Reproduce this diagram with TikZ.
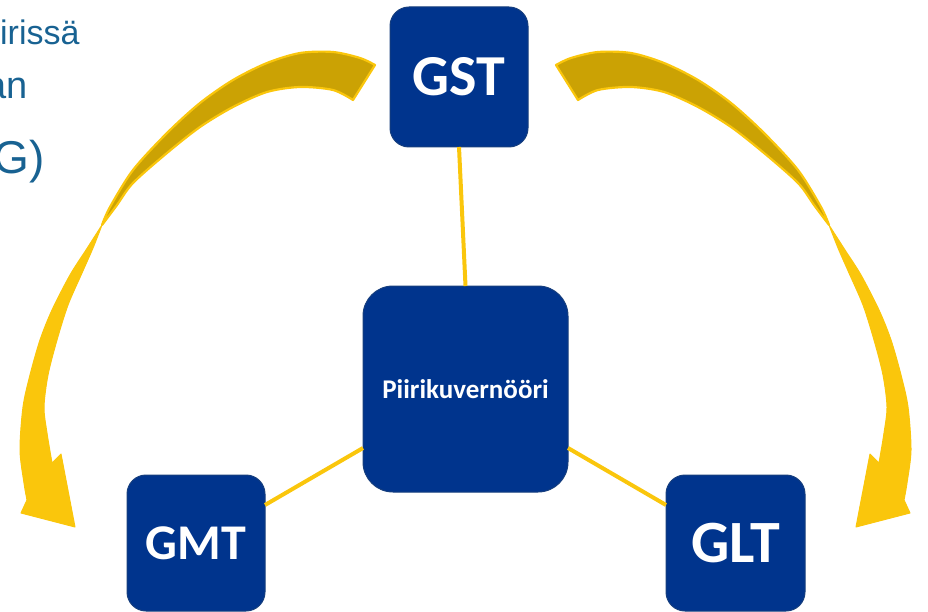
\documentclass[tikz,border=0pt]{standalone}
\usepackage{fontspec}
\setmainfont{Liberation Sans}
\newfontfamily\cali{Carlito}
\definecolor{goldy}{RGB}{250,198,12}
\definecolor{golddark}{RGB}{203,162,4}
\definecolor{rblue}{RGB}{0,52,141}
\definecolor{rborder}{RGB}{22,62,125}
\definecolor{txtblue}{RGB}{24,98,146}
\newcommand\myturnarrow{%
  \filldraw[fill=golddark, draw=goldy, line width=2.2pt, line join=round]
    plot[smooth] coordinates {(375,65) (360,58) (333,52) (300,53) (267,63) (233,80) (200,103) (167,133) (133,170) (110,207) (102,225)}
    -- plot[smooth] coordinates {(102,225) (117,205) (133,183) (167,153) (200,127) (233,107) (267,92) (300,87) (333,90) (353,100)}
    -- cycle;
  \filldraw[fill=goldy, draw=goldy, line width=1pt, line join=round]
    plot[smooth] coordinates {(102,225) (86,250) (70,275) (52,310) (40,340) (30,375) (23,407) (20,450) (24,483) (27,500)}
    -- (21,513) -- (75,527) -- (61,454) --
    plot[smooth] coordinates {(52,463) (47,433) (44,407) (48,375) (57,340) (68,305) (82,273) (93,248) (102,225)}
    -- cycle;
}
\begin{document}
\begin{tikzpicture}[x=1pt,y=-1pt,
  boxnode/.style={draw=rborder, line width=1pt, fill=rblue, text=white, inner sep=0pt, outer sep=0pt, font=\cali\bfseries},
  linkline/.style={draw=goldy, line width=4pt},
  sidetext/.style={text=txtblue, inner sep=0pt}]
\useasboundingbox (0,0) rectangle (928,612);
\clip (0,0) rectangle (928,612);
% text fragments at the left
\node[sidetext, anchor=base west, font=\fontsize{34}{36}\selectfont] (t1) at (0,45) {irissä};
\node[sidetext, anchor=base east, font=\fontsize{38}{40}\selectfont] (t2) at (28,99) {an};
\node[sidetext, anchor=base east, font=\fontsize{46}{48}\selectfont] (t3) at (45,174) {G)};
% curved arrows
\myturnarrow
\begin{scope}[shift={(931,0)}, xscale=-1]
\myturnarrow
\end{scope}
% boxes
\node[boxnode, minimum width=138pt, minimum height=140pt, rounded corners=19pt, font=\cali\bfseries\fontsize{58}{60}\selectfont] (gst) at (459,77) {GST};
\node[boxnode, minimum width=205pt, minimum height=206pt, rounded corners=30pt, font=\cali\bfseries\fontsize{27}{29}\selectfont] (pk) at (465.5,389) {Piirikuvernööri};
\node[boxnode, minimum width=138pt, minimum height=136pt, rounded corners=19pt, font=\cali\bfseries\fontsize{50}{52}\selectfont] (gmt) at (196,543) {GMT};
\node[boxnode, minimum width=139pt, minimum height=136pt, rounded corners=19pt, font=\cali\bfseries\fontsize{60}{62}\selectfont] (glt) at (735.5,543) {GLT};
% connectors
\draw[linkline] (gst.south) -- (pk.north);
\draw[linkline] ([yshift=-59pt]pk.west) -- ([yshift=38pt]gmt.east);
\draw[linkline] ([yshift=-59pt]pk.east) -- ([yshift=38pt]glt.west);
\end{tikzpicture}
\end{document}
